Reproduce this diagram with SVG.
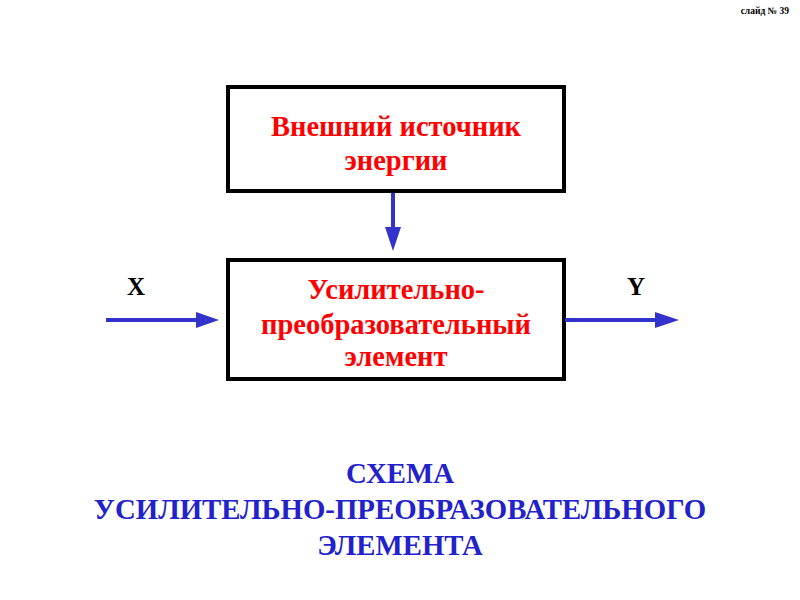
<svg xmlns="http://www.w3.org/2000/svg" width="800" height="600" viewBox="0 0 800 600">
<style>
.box{fill:#fff;stroke:#000;stroke-width:4}
.red{font-family:"Liberation Serif",serif;font-weight:bold;font-size:28.5px;fill:#ff0000;text-anchor:middle}
.blue{font-family:"Liberation Serif",serif;font-weight:bold;font-size:28.8px;fill:#2222cc;text-anchor:middle}
.lbl{font-family:"Liberation Serif",serif;font-weight:bold;font-size:25px;fill:#000;text-anchor:middle}
.conn{stroke:#3333cc;stroke-width:4;fill:none}
.head{fill:#3333cc}
</style>
<rect width="800" height="600" fill="#fff"/>
<text x="789" y="14" font-family="Liberation Serif,serif" font-weight="bold" font-size="9.5" text-anchor="end" fill="#000">слайд № 39</text>
<g id="source">
<rect class="box" x="228" y="87" width="336" height="104"/>
<text class="red" x="396" y="136">Внешний источник</text>
<text class="red" x="396" y="170">энергии</text>
</g>
<g id="element">
<rect class="box" x="228" y="260" width="336" height="119"/>
<text class="red" x="396" y="299">Усилительно-</text>
<text class="red" x="396" y="334">преобразовательный</text>
<text class="red" x="396" y="366">элемент</text>
</g>
<g id="connectors">
<line class="conn" x1="393" y1="193" x2="393" y2="230"/>
<polygon class="head" points="385,227 401,227 393,251"/>
<line class="conn" x1="106" y1="320" x2="200" y2="320"/>
<polygon class="head" points="196,312 196,328 219,320"/>
<line class="conn" x1="565" y1="320" x2="658" y2="320"/>
<polygon class="head" points="655,312 655,328 679,320"/>
</g>
<text class="lbl" x="136" y="295">X</text>
<text class="lbl" x="636" y="295">Y</text>
<g id="title">
<text class="blue" x="400" y="483">СХЕМА</text>
<text class="blue" x="400" y="519">УСИЛИТЕЛЬНО-ПРЕОБРАЗОВАТЕЛЬНОГО</text>
<text class="blue" x="400" y="555">ЭЛЕМЕНТА</text>
</g>
</svg>
